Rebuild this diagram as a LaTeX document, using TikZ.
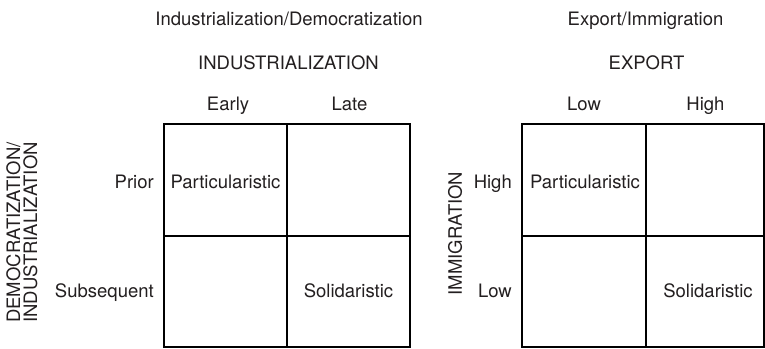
\documentclass[tikz,border=0pt]{standalone}
\usepackage{fontspec}
\setmainfont{TeX Gyre Heros}
\definecolor{ink}{HTML}{231F20}
\begin{document}
\begin{tikzpicture}[x=1pt,y=-1pt,
  every node/.style={text=ink, font=\fontsize{18.5}{17}\selectfont, inner sep=0pt},
  lbl/.style={anchor=base},
  rowlbl/.style={anchor=base east},
  cell/.style={draw=black, line width=2pt, rectangle, inner sep=0pt,
    minimum width=#1, minimum height=111.5pt},
  cell/.default=123pt]
  % page frame
  \fill[white] (0,0) rectangle (765,348);
  \useasboundingbox (0,0) rectangle (765,348);

  % ---------- Industrialization / Democratization ----------
  \node[lbl] (title1) at (289,25) {Industrialization/Democratization};
  \node[lbl] (head1)  at (288.5,69.5) {INDUSTRIALIZATION};
  \node[lbl] (early)  at (228,110) {Early};
  \node[lbl] (late)   at (349.5,110) {Late};

  \node[cell] (a11) at (225.5,180)    {};
  \node[cell] (a12) at (348.5,180)    {};
  \node[cell] (a21) at (225.5,291.25) {};
  \node[cell] (a22) at (348.5,291.25) {};
  \node[lbl] (part1) at (225.5,188) {Particularistic};
  \node[lbl] (soli1) at (348.5,297) {Solidaristic};

  \node[rowlbl] (prior) at (154,188) {Prior};
  \node[rowlbl] (subs)  at (154,297) {Subsequent};
  \node[rotate=90, align=center] (axis1) at (22,232.5)
    {DEMOCRATIZATION/\\INDUSTRIALIZATION};

  % ---------- Export / Immigration ----------
  \node[lbl] (title2) at (645.5,25) {Export/Immigration};
  \node[lbl] (head2)  at (646.5,69.5) {EXPORT};
  \node[lbl] (low)    at (584,110) {Low};
  \node[lbl] (high)   at (705.5,110) {High};

  \node[cell=124pt] (b11) at (584,180)    {};
  \node[cell=118pt] (b12) at (705,180)    {};
  \node[cell=124pt] (b21) at (584,291.25) {};
  \node[cell=118pt] (b22) at (705,291.25) {};
  \node[lbl] (part2) at (585,188) {Particularistic};
  \node[lbl] (soli2) at (708,297) {Solidaristic};

  \node[rowlbl] (rhigh) at (512,188) {High};
  \node[rowlbl] (rlow)  at (512,297) {Low};
  \node[rotate=90] (axis2) at (455,233.5) {IMMIGRATION};
\end{tikzpicture}
\end{document}
